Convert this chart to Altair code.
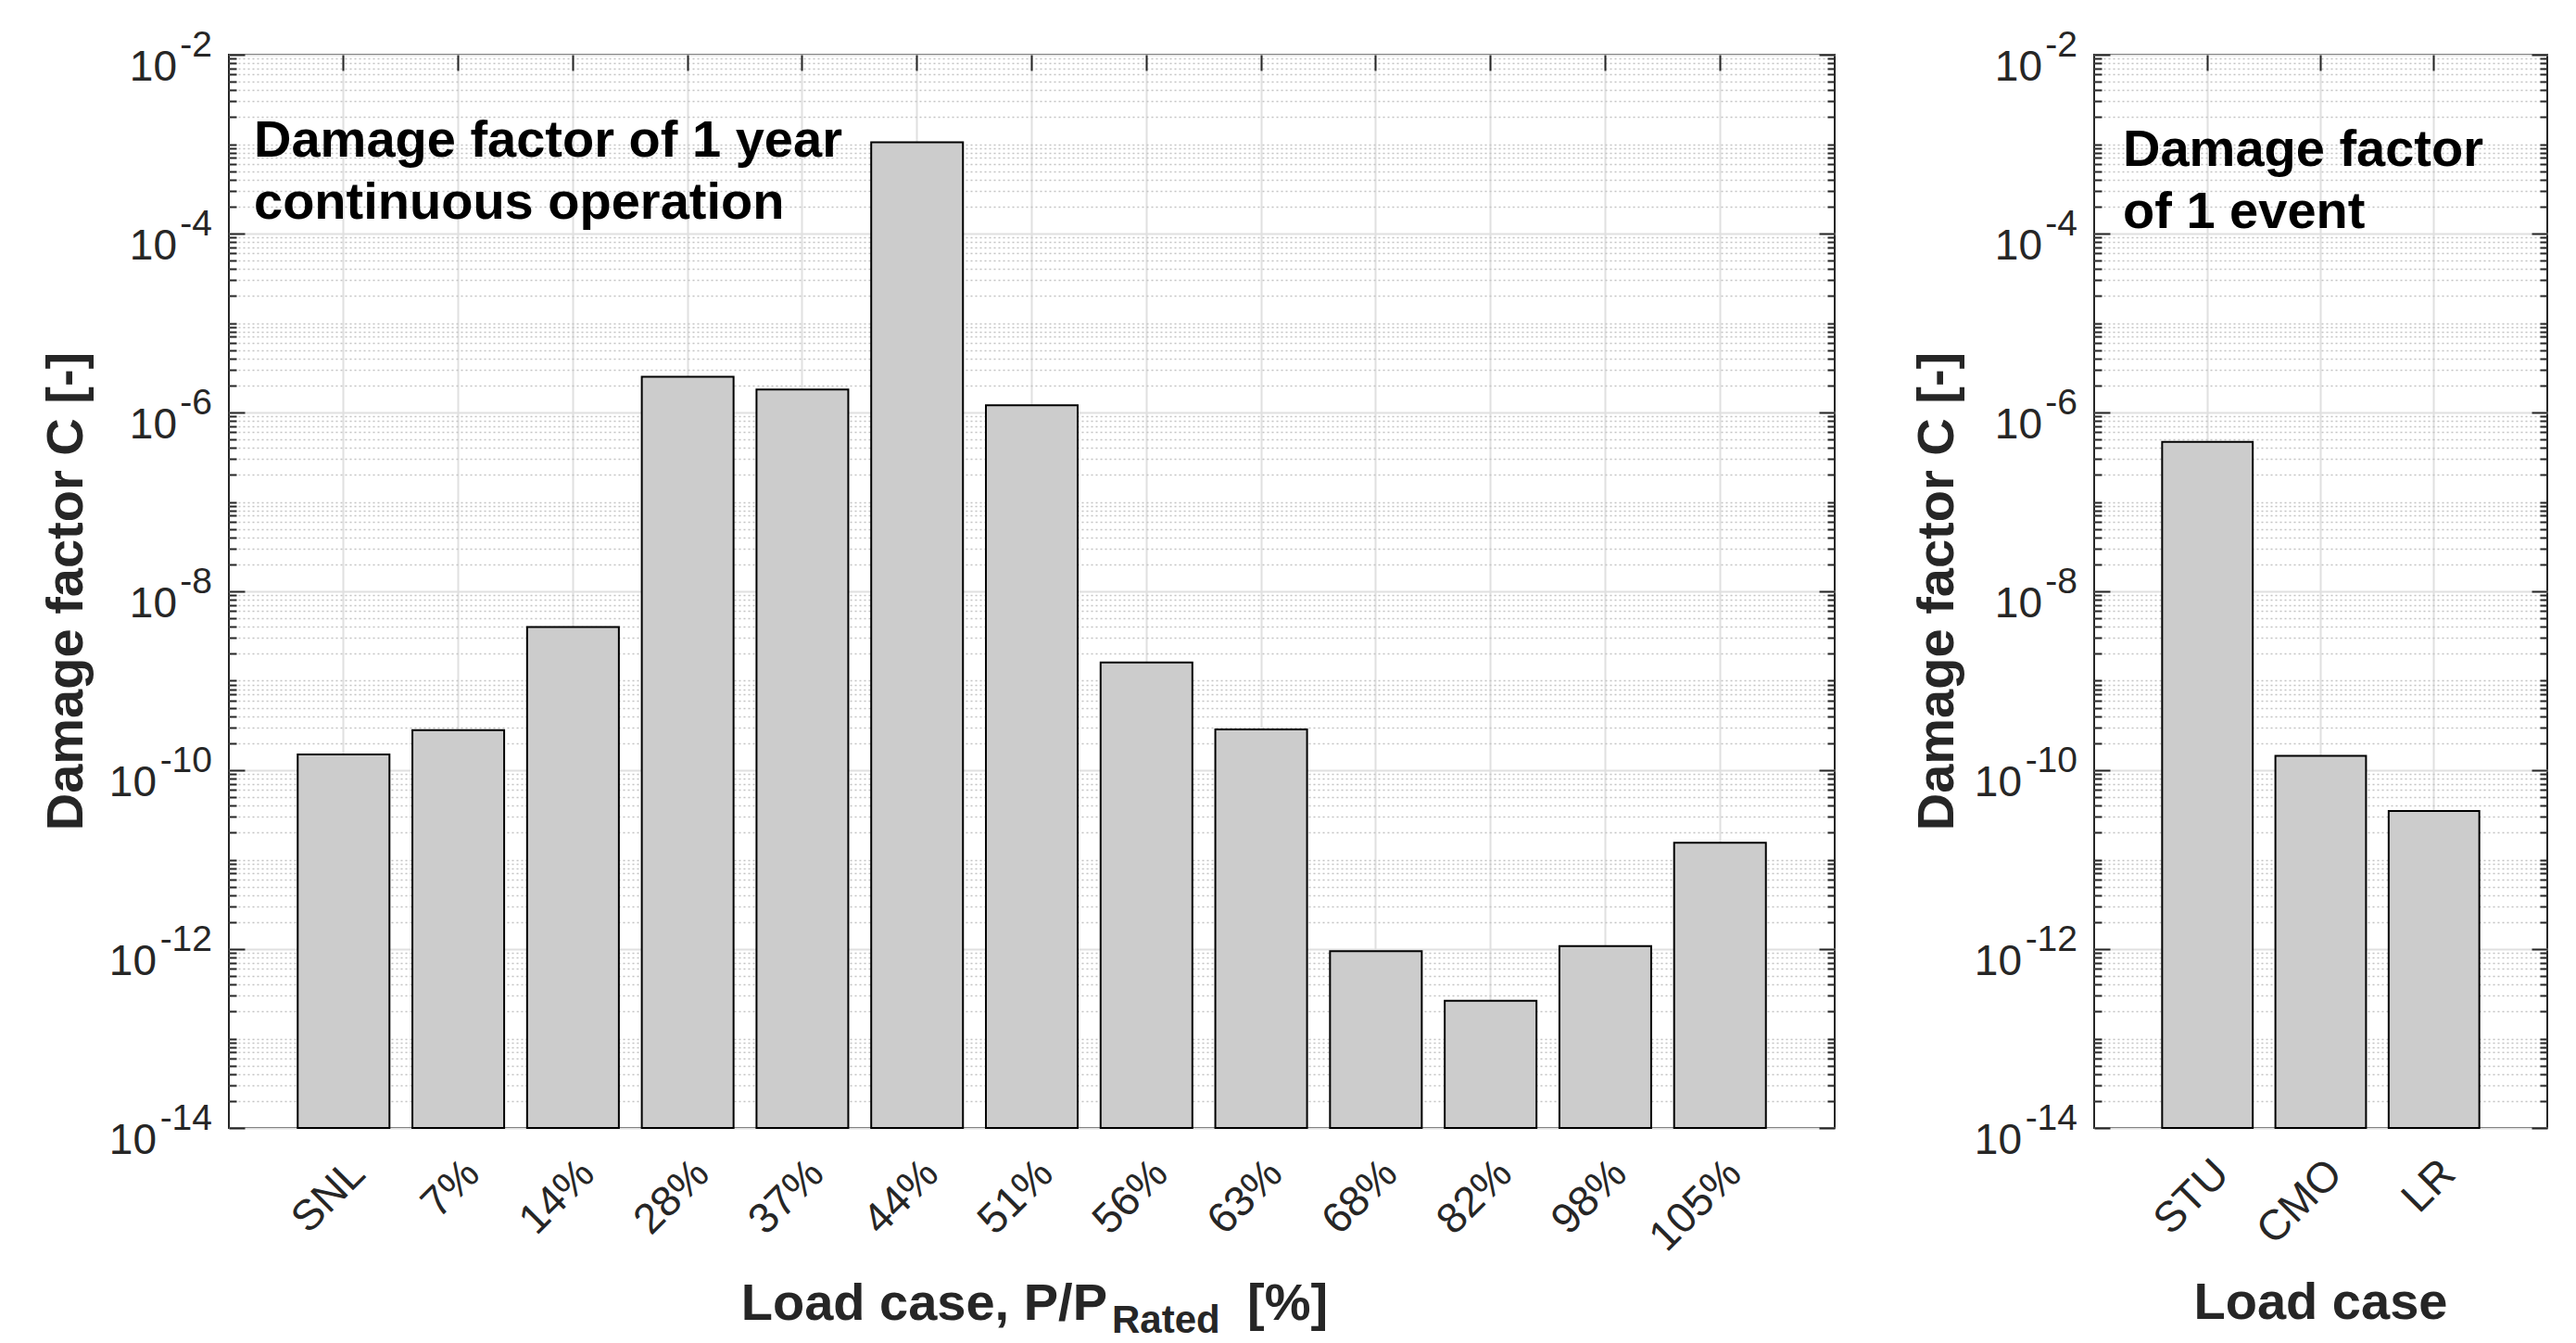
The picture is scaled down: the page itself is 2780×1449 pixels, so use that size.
import altair as alt
import pandas as pd

# ---------------- data ----------------
cases_year = ["SNL", "7%", "14%", "28%", "37%", "44%", "51%", "56%", "63%", "68%", "82%", "98%", "105%"]
damage_year = [1.5e-10, 2.8e-10, 4.0e-9, 2.5e-6, 1.8e-6, 1.05e-3, 1.2e-6, 1.6e-9, 2.85e-10,
               9.5e-13, 2.65e-13, 1.08e-12, 1.55e-11]

cases_event = ["STU", "CMO", "LR"]
damage_event = [4.7e-7, 1.45e-10, 3.5e-11]

major_ticks = [1e-2, 1e-4, 1e-6, 1e-8, 1e-10, 1e-12, 1e-14]
major_exps = ["-2", "-4", "-6", "-8", "-10", "-12", "-14"]
# minor log ticks 2..9 x 10^k plus the odd decades (axis tick positions, not data)
minor_ticks = [m * 10.0 ** e for e in range(-14, -2) for m in range(1, 10)
               if not (m == 1 and e % 2 == 0)]

ann_year = ["Damage factor of 1 year", "continuous operation"]
ann_event = ["Damage factor", "of 1 event"]

FONT = "Liberation Sans"
TXT = "#262626"
H = 1158
W_LEFT = 1733
W_RIGHT = 489


def panel(cases, vals, W, ann_lines, ann_x, ann_y, ytitle_x, xtitle_parts):
    df = pd.DataFrame({"case": cases, "value": vals})
    xs = alt.Scale(domain=cases, paddingInner=0.2, paddingOuter=0.6)
    ys = alt.Scale(type="log", domain=[1e-14, 1e-2], nice=False)
    base = alt.Chart(df)

    xenc_noaxis = alt.X("case:N", scale=xs, sort=cases, axis=None)
    yenc_noaxis = alt.Y("value:Q", scale=ys, axis=None)

    bars = base.mark_bar(fill="#cccccc", stroke="#000000", strokeWidth=2).encode(
        x=alt.X("case:N", scale=xs, sort=cases,
                axis=alt.Axis(title=None, grid=True, gridColor="#e0e0e0", gridWidth=2,
                              bandPosition=0.5, ticks=False, tickSize=0, domain=False,
                              labelAngle=315, labelAlign="right", labelBaseline="top",
                              labelPadding=26, labelFontSize=46, labelFont=FONT,
                              labelColor=TXT, labelOverlap=False)),
        y=alt.Y("value:Q", scale=ys,
                axis=alt.Axis(values=major_ticks, grid=True, gridColor="#e0e0e0", gridWidth=2,
                              labels=False, ticks=False, domain=False, title=None)),
        y2=alt.datum(1e-14),
    )

    ghost = base.mark_point(opacity=0)
    minor_grid = ghost.encode(
        x=xenc_noaxis,
        y=alt.Y("value:Q", scale=ys,
                axis=alt.Axis(values=minor_ticks, grid=True, gridDash=[2, 3], gridColor="#c4c4c4",
                              gridWidth=1.5, labels=False, ticks=False, domain=False, title=None)),
    )

    def ytick(vals_, size, orient):
        return ghost.encode(
            x=xenc_noaxis,
            y=alt.Y("value:Q", scale=ys,
                    axis=alt.Axis(orient=orient, values=vals_, offset=-size, tickSize=size,
                                  tickWidth=2, tickColor=TXT, grid=False, labels=False,
                                  domain=False, title=None)),
        )

    def xtick(orient):
        return ghost.encode(
            x=alt.X("case:N", scale=xs, sort=cases,
                    axis=alt.Axis(orient=orient, offset=-17, tickSize=17, tickWidth=2,
                                  tickColor=TXT, bandPosition=0.5, grid=False, labels=False,
                                  domain=False, title=None)),
            y=yenc_noaxis,
        )

    tick_df = pd.DataFrame({"v": major_ticks, "e": major_exps})
    tbase = alt.Chart(tick_df)
    ten_short = tbase.transform_filter("length(datum.e) == 2").mark_text(
        text="10", align="right", baseline="alphabetic", dx=-38, dy=28,
        fontSize=46, font=FONT, color=TXT).encode(
        x=alt.value(-18), y=alt.Y("v:Q", scale=ys, axis=None))
    ten_long = tbase.transform_filter("length(datum.e) == 3").mark_text(
        text="10", align="right", baseline="alphabetic", dx=-60, dy=28,
        fontSize=46, font=FONT, color=TXT).encode(
        x=alt.value(-18), y=alt.Y("v:Q", scale=ys, axis=None))
    exps = tbase.mark_text(align="right", baseline="alphabetic", dy=2,
                           fontSize=39, font=FONT, color=TXT).encode(
        x=alt.value(-18), y=alt.Y("v:Q", scale=ys, axis=None), text="e:N")

    one = alt.Data(values=[{"t": ann_lines}])
    ann = alt.Chart(one).mark_text(align="left", baseline="alphabetic", fontSize=56,
                                   fontWeight="bold", font=FONT, color="#000000",
                                   lineHeight=67).encode(
        x=alt.value(ann_x), y=alt.value(ann_y), text="t:N")

    ytitle = alt.Chart(alt.Data(values=[{"t": "Damage factor C [-]"}])).mark_text(
        align="center", baseline="alphabetic", angle=270, fontSize=56, fontWeight="bold",
        font=FONT, color=TXT).encode(
        x=alt.value(ytitle_x), y=alt.value(H / 2), text="t:N")

    xt_layers = []
    for txt, size, align, xpos, ypos in xtitle_parts:
        xt_layers.append(
            alt.Chart(alt.Data(values=[{"t": txt}])).mark_text(
                align=align, baseline="alphabetic", fontSize=size, fontWeight="bold",
                font=FONT, color=TXT).encode(
                x=alt.value(xpos), y=alt.value(ypos), text="t:N"))

    layers = [minor_grid, bars,
              ytick(major_ticks, 17, "left"), ytick(minor_ticks, 8, "left"),
              ytick(major_ticks, 17, "right"), ytick(minor_ticks, 8, "right"),
              xtick("bottom"), xtick("top"),
              ten_short, ten_long, exps, ann, ytitle] + xt_layers
    return alt.layer(*layers).resolve_axis(x="independent", y="independent").properties(
        width=W, height=H)


left = panel(cases_year, damage_year, W_LEFT, ann_year, 27, 110, -158,
             [("Load case, P/P", 56, "right", 948, H + 207),
              ("Rated", 42, "left", 953, H + 221),
              ("[%]", 56, "left", 1099, H + 207)])
right = panel(cases_event, damage_event, W_RIGHT, ann_event, 31, 120, -152,
              [("Load case", 56, "center", W_RIGHT / 2, H + 206)])

chart = alt.hconcat(left, right, spacing=80).properties(
    padding={"left": 35, "top": 21, "right": 5, "bottom": 0},
    background="white",
).configure_view(stroke=TXT, strokeWidth=2)

chart.save("out.html", embed_options={"renderer": "svg", "actions": False})
